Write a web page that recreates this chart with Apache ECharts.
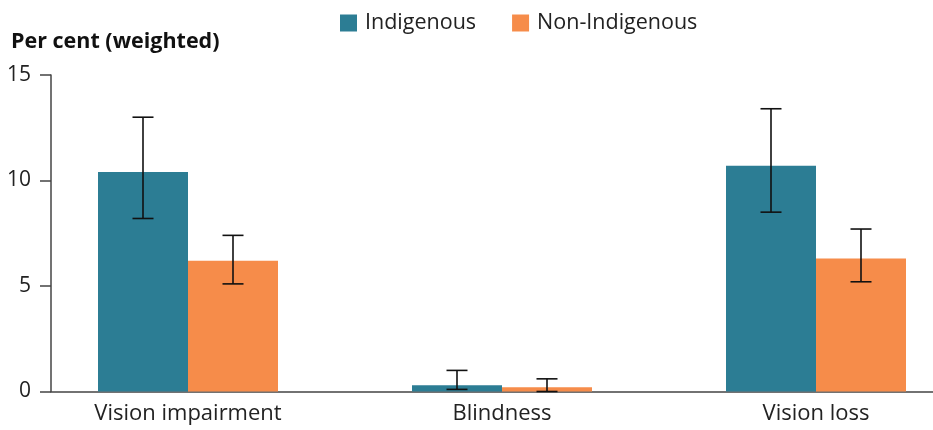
<!DOCTYPE html>
<html>
<head>
<meta charset="utf-8">
<script src="https://cdn.jsdelivr.net/npm/echarts@6/dist/echarts.min.js"></script>
<style>
  html, body { margin: 0; padding: 0; background: #fff; }
  #chart { width: 933px; height: 430px; }
</style>
</head>
<body>
<div id="chart"></div>
<script>
// Vision outcomes by Indigenous status, weighted per cent with confidence intervals
var categories = ['Vision impairment', 'Blindness', 'Vision loss'];
var seriesNames = ['Indigenous', 'Non-Indigenous'];
var indigenous = [10.4, 0.3, 10.7];
var indigenousLow = [8.2, 0.1, 8.5];
var indigenousHigh = [13.0, 1.0, 13.4];
var nonIndigenous = [6.2, 0.2, 6.3];
var nonIndigenousLow = [5.1, 0.0, 5.2];
var nonIndigenousHigh = [7.4, 0.6, 7.7];
var yTicks = [0, 5, 10, 15];

var colors = ['#2c7d94', '#f68c4a'];
var FONT = '"Open Sans", "Noto Sans", sans-serif';
var BAR_W = 90;       // px per bar
var GROUP_STEP = 314; // px between group centres
var BAR_GRID_LEFT = 31;
var BAR_GRID_WIDTH = 902;

var catIndex = categories.map(function (c, i) { return i; });

function barData(values) {
  return values.map(function (v, i) { return [catIndex[i], v]; });
}

function errorData(low, high) {
  return categories.map(function (c, i) { return [catIndex[i], low[i], high[i]]; });
}

function errorBar(offsetSign) {
  return function (params, api) {
    var lowPt = api.coord([api.value(0), api.value(1)]);
    var highPt = api.coord([api.value(0), api.value(2)]);
    var x = lowPt[0] + offsetSign * BAR_W / 2;
    var cap = 10.5;
    var style = { stroke: '#111', lineWidth: 1.6, fill: null };
    return {
      type: 'group',
      children: [
        { type: 'line', shape: { x1: x, y1: highPt[1], x2: x, y2: lowPt[1] }, style: style },
        { type: 'line', shape: { x1: x - cap, y1: highPt[1], x2: x + cap, y2: highPt[1] }, style: style },
        { type: 'line', shape: { x1: x - cap, y1: lowPt[1], x2: x + cap, y2: lowPt[1] }, style: style }
      ]
    };
  };
}

var chart = echarts.init(document.getElementById('chart'), null, { renderer: 'canvas' });

var yMin = yTicks[0], yMax = yTicks[yTicks.length - 1], yStep = yTicks[1] - yTicks[0];
// x extent for the bar grid: each group gets GROUP_STEP px, half a step before the first
var xMin = -0.5;
var xMax = xMin + BAR_GRID_WIDTH / GROUP_STEP;

chart.setOption({
  animation: false,
  textStyle: { fontFamily: FONT },
  title: {
    text: 'Per cent (weighted)',
    left: 6, top: 26,
    textStyle: { fontFamily: FONT, fontSize: 21.5, fontWeight: 'bold', color: '#111' }
  },
  legend: {
    data: seriesNames,
    left: 335, top: 7,
    itemWidth: 17, itemHeight: 17, itemGap: 36,
    icon: 'rect',
    textStyle: { fontFamily: FONT, fontSize: 21.5, color: '#222', padding: [0, 0, 0, 3] }
  },
  grid: [
    // axes frame
    { left: 51, right: 0, top: 75, bottom: 38.5, containLabel: false },
    // bars
    { left: BAR_GRID_LEFT, width: BAR_GRID_WIDTH, top: 75, bottom: 38.5, containLabel: false }
  ],
  xAxis: [
    {
      gridIndex: 0, type: 'category', data: categories,
      axisLine: { lineStyle: { color: '#444', width: 1.5 } },
      axisTick: { show: false }, axisLabel: { show: false }
    },
    {
      gridIndex: 1, type: 'value', min: xMin, max: xMax,
      axisLine: { show: false }, axisTick: { show: false },
      splitLine: { show: false },
      axisLabel: {
        customValues: catIndex,
        formatter: function (v) { return categories[Math.round(v)]; },
        fontFamily: FONT, fontSize: 22, color: '#222', margin: 11,
        hideOverlap: false
      }
    }
  ],
  yAxis: [
    {
      gridIndex: 0, type: 'value', min: yMin, max: yMax, interval: yStep,
      axisLine: { show: true, lineStyle: { color: '#444', width: 1.5 } },
      axisTick: { show: true, length: 11, lineStyle: { color: '#444', width: 1.5 } },
      axisLabel: { fontFamily: FONT, fontSize: 21, color: '#222', margin: 20 },
      splitLine: { show: false }
    },
    {
      gridIndex: 1, type: 'value', min: yMin, max: yMax, interval: yStep,
      show: false, splitLine: { show: false }
    }
  ],
  series: [
    {
      name: seriesNames[0], type: 'bar', xAxisIndex: 1, yAxisIndex: 1,
      data: barData(indigenous), barWidth: BAR_W, barGap: '0%',
      itemStyle: { color: colors[0] }, z: 2
    },
    {
      name: seriesNames[1], type: 'bar', xAxisIndex: 1, yAxisIndex: 1,
      data: barData(nonIndigenous), barWidth: BAR_W, barGap: '0%',
      itemStyle: { color: colors[1] }, z: 2
    },
    {
      type: 'custom', xAxisIndex: 1, yAxisIndex: 1,
      renderItem: errorBar(-1), data: errorData(indigenousLow, indigenousHigh),
      encode: { x: 0, y: [1, 2] }, z: 5, silent: true
    },
    {
      type: 'custom', xAxisIndex: 1, yAxisIndex: 1,
      renderItem: errorBar(1), data: errorData(nonIndigenousLow, nonIndigenousHigh),
      encode: { x: 0, y: [1, 2] }, z: 5, silent: true
    }
  ]
});
</script>
</body>
</html>
